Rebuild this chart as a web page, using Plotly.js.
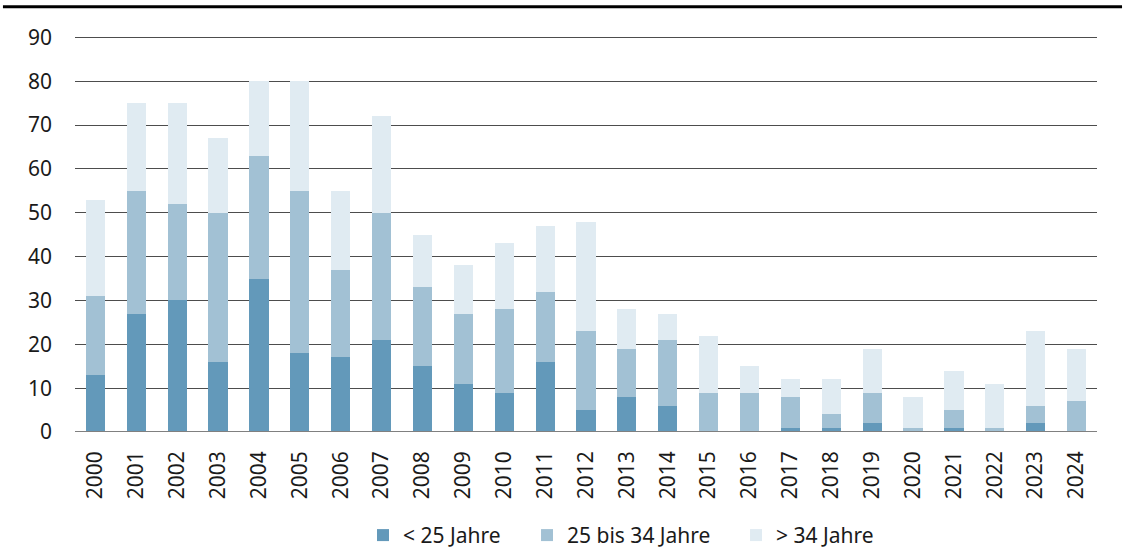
<!DOCTYPE html>
<html><head><meta charset="utf-8">
<script src="https://cdn.plot.ly/plotly-3.0.1.min.js"></script>
<style>html,body{margin:0;padding:0;background:#fff}#chart{width:1125px;height:552px}</style>
</head><body><div id="chart"></div>
<script>
const years = ['2000','2001','2002','2003','2004','2005','2006','2007','2008','2009','2010','2011','2012','2013','2014','2015','2016','2017','2018','2019','2020','2021','2022','2023','2024'];
const under25 = [13,27,30,16,35,18,17,21,15,11,9,16,5,8,6,0,0,1,1,2,0,1,0,2,0];
const from25to34 = [18,28,22,34,28,37,20,29,18,16,19,16,18,11,15,9,9,7,3,7,1,4,1,4,7];
const over34 = [22,20,23,17,17,25,18,22,12,11,15,15,25,9,6,13,6,4,8,10,7,9,10,17,12];
const seriesNames = ['< 25 Jahre','25 bis 34 Jahre','> 34 Jahre'];
const colors = ['#6399ba','#a2c1d4','#e0ebf2'];
const yTicks = [0,10,20,30,40,50,60,70,80,90];

const font = {family:'"Noto Sans", "Open Sans", sans-serif', size:21, color:'#1a1a1a'};
const legendFont = {family:'"Noto Sans", "Open Sans", sans-serif', size:21, color:'#1a1a1a'};
const legendIds = ['legend','legend2','legend3'];
const legendX = [0.2818, 0.4423, 0.6468];
const data = [under25, from25to34, over34].map((v,i)=>({
  type:'bar', x:years, y:v, name:seriesNames[i], legend:legendIds[i],
  marker:{color:colors[i], line:{width:0}}, hoverinfo:'skip'
}));
const layout = {
  width:1125, height:552, barmode:'stack', bargap:0.53,
  margin:{l:75, r:28, t:33, b:120, autoexpand:false},
  paper_bgcolor:'#fff', plot_bgcolor:'#fff', font:font,
  showlegend:true,
  xaxis:{type:'category', tickangle:-90, tickfont:font, showgrid:false, showline:false, ticks:'', zeroline:false, automargin:false, ticklabelstandoff:14},
  yaxis:{range:[0,91], tickvals:yTicks, ticktext:yTicks.map(String), showgrid:true, gridcolor:'#4d4d4d', gridwidth:1, zeroline:false, showline:false, ticks:'', tickfont:font, automargin:false, ticklabelstandoff:22},
  shapes:[
    {type:'line', xref:'paper', yref:'paper', x0:-0.0705, x1:1.0245, y0:1.0655, y1:1.0655, line:{color:'#000', width:3}},
    {type:'line', xref:'paper', yref:'y', x0:0, x1:1, y0:0, y1:0, line:{color:'#808080', width:2}, layer:'above'}
  ]
};
legendIds.forEach((id,i)=>{
  layout[id] = {orientation:'h', x:legendX[i], xanchor:'left', xref:'paper', yref:'container', y:0.03, yanchor:'middle', font:legendFont, borderwidth:0, bgcolor:'rgba(0,0,0,0)'};
});
Plotly.newPlot('chart', data, layout, {staticPlot:true, displayModeBar:false});
</script></body></html>
